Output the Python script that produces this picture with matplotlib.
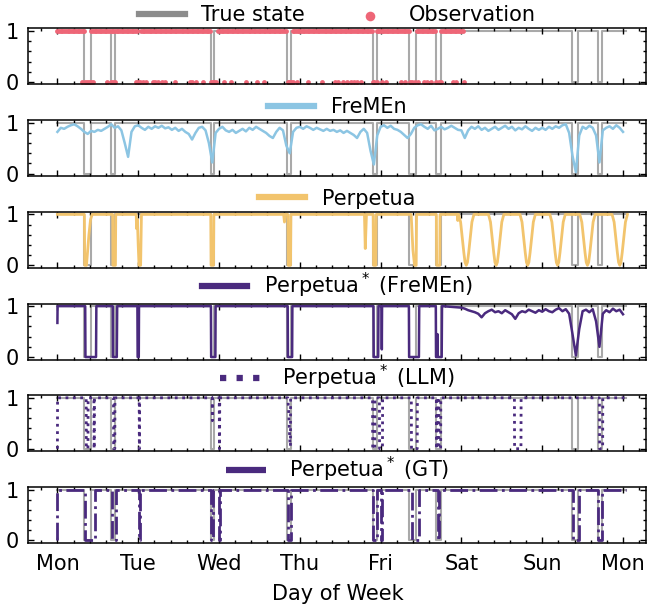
import numpy as np
import matplotlib
matplotlib.use("Agg")
import matplotlib.pyplot as plt
from matplotlib.ticker import AutoMinorLocator

day_ticks = [0, 1, 2, 3, 4, 5, 6, 7]
day_labels = ["Mon", "Tue", "Wed", "Thu", "Fri", "Sat", "Sun", "Mon"]
t_end = 7.04

# periods where the true state is 0 (days since Monday 00:00)
true_dips = [(0.334, 0.42), (0.666, 0.715), (1.899, 1.936), (2.847, 2.892),
             (3.903, 3.953), (4.357, 4.44), (4.687, 4.749), (6.366, 6.448),
             (6.696, 6.737)]

# observations, Mon-Fri only: runs of 1s (sampled every 30 min) and the 0s
obs_one_ranges = [(0.0, 0.335), (0.42, 0.985), (1.036, 1.895), (1.99, 2.84),
                  (2.91, 3.9), (3.95, 4.355), (4.445, 4.685), (4.75, 5.03)]
obs_step = 1 / 48
obs_zero_t = [0.302, 0.345, 0.37, 0.39, 0.41, 0.44, 0.611, 0.667, 0.69, 0.712,
              0.976, 1.0, 1.02, 1.06, 1.10, 1.18, 1.21, 1.25, 1.29, 1.33, 1.457,
              1.64, 1.67, 1.72, 1.807, 1.90, 1.92, 1.94, 1.96, 2.063, 2.15, 2.33,
              2.47, 2.56, 2.85, 2.87, 2.89, 2.92, 2.96, 3.1, 3.28, 3.43, 3.47,
              3.53, 3.59, 3.63, 3.67, 3.71, 3.76, 3.90, 3.92, 3.95, 4.02, 4.07,
              4.25, 4.30, 4.36, 4.39, 4.42, 4.46, 4.54, 4.58, 4.62, 4.69, 4.72,
              4.75, 4.89, 4.93, 5.03]

# FreMEn prediction, one value per hour
fremen_vals = [
    0.82, 0.9, 0.88, 0.92, 0.95, 0.97, 0.93, 0.88, 0.82, 0.78, 0.84, 0.82,
    0.86, 0.84, 0.88, 0.92, 0.97, 0.9, 0.93, 0.85, 0.6, 0.33, 0.82, 0.93,
    0.95, 0.9, 0.86, 0.92, 0.88, 0.93, 0.9, 0.94, 0.89, 0.91, 0.86, 0.9,
    0.84, 0.88, 0.82, 0.78, 0.67, 0.8, 0.9, 0.92, 0.85, 0.6, 0.22, 0.8,
    0.88, 0.92, 0.85, 0.82, 0.86, 0.8, 0.84, 0.88, 0.83, 0.9, 0.86, 0.92,
    0.88, 0.84, 0.8, 0.74, 0.7, 0.82, 0.9, 0.85, 0.55, 0.4, 0.82, 0.9,
    0.92, 0.88, 0.93, 0.9, 0.86, 0.9, 0.87, 0.84, 0.88, 0.84, 0.86, 0.82,
    0.85, 0.8, 0.84, 0.8, 0.76, 0.7, 0.82, 0.88, 0.8, 0.45, 0.18, 0.75,
    0.92, 0.95, 0.9, 0.94, 0.88, 0.86, 0.82, 0.76, 0.7, 0.78, 0.9, 0.95,
    0.97, 0.92, 0.88, 0.94, 0.85, 0.88, 0.92, 0.87, 0.9, 0.94, 0.9, 0.86,
    0.85, 0.7, 0.85, 0.92, 0.88, 0.93, 0.86, 0.9, 0.84, 0.88, 0.92, 0.86,
    0.9, 0.94, 0.88, 0.92, 0.85, 0.9, 0.87, 0.93, 0.88, 0.84, 0.9, 0.86,
    0.9, 0.86, 0.92, 0.88, 0.93, 0.9, 0.95, 0.97, 0.8, 0.35, 0.03, 0.75,
    0.92, 0.88, 0.94, 0.9, 0.75, 0.22, 0.85, 0.9, 0.93, 0.88, 0.95, 0.9,
    0.82]

# Perpetua: breakpoints up to Friday, then V-shaped dips over the weekend
perp_t = [0.0, 0.334, 0.338, 0.36, 0.39, 0.41, 0.43,
          0.684, 0.687, 0.718, 0.722,
          0.975, 0.98, 0.99, 1.0, 1.01, 1.03, 1.04,
          1.898, 1.902, 1.932, 1.936,
          2.80, 2.81, 2.82, 2.853, 2.857, 2.885, 2.89,
          3.80, 3.81, 3.825, 3.908, 3.913, 3.94, 3.945,
          4.378, 4.40, 4.42, 4.44, 4.445,
          4.69, 4.694, 4.732, 4.736,
          4.95, 4.955, 4.96]
perp_v = [1, 1, 0, 0, 0.6, 0.9, 1,
          1, 0, 0, 1,
          1, 0.72, 0.9, 0.4, 0, 0, 1,
          1, 0, 0, 1,
          1, 0.85, 1, 1, 0, 0, 1,
          1, 0.33, 1, 1, 0, 0, 1,
          1, 0.3, 0, 0, 1,
          1, 0, 0, 1,
          1, 0.88, 1]
perp_v_centres = [5.06, 5.43, 5.82, 6.19, 6.56, 6.96]
v_offsets = [-0.095, -0.07, -0.05, -0.03, -0.015, 0.0, 0.015, 0.03, 0.05, 0.07, 0.095]
v_shape = [1.0, 0.85, 0.55, 0.25, 0.06, 0.0, 0.06, 0.25, 0.55, 0.85, 1.0]

# Perpetua* (FreMEn): breakpoints up to Friday, hourly values for the weekend
pf_t = [0.0, 0.002, 0.344, 0.347, 0.478, 0.482,
        0.685, 0.688, 0.735, 0.74,
        0.99, 0.993, 1.007, 1.01,
        1.90, 1.903, 1.955, 1.958,
        2.85, 2.853, 2.905, 2.908,
        3.912, 3.915, 3.97, 3.974, 4.012, 4.015, 4.018,
        4.35, 4.353, 4.474, 4.478,
        4.683, 4.686, 4.70, 4.704, 4.708, 4.756, 4.76]
pf_v = [0.67, 1, 1, 0, 0, 1,
        1, 0, 0, 1,
        1, 0, 0, 1,
        1, 0, 0, 1,
        1, 0, 0, 1,
        1, 0, 0, 1, 1, 0.15, 1,
        1, 0, 0, 1,
        1, 0, 0, 0.45, 0, 0, 1]
pf_weekend = [0.97, 0.95, 0.92, 0.9, 0.88, 0.85, 0.78, 0.86, 0.9, 0.93, 0.88, 0.9,
              0.86, 0.92, 0.88, 0.84, 0.75, 0.86, 0.9, 0.88, 0.93, 0.9, 0.87, 0.92,
              0.89, 0.94, 0.9, 0.88, 0.93, 0.96, 0.9, 0.94, 0.85, 0.45, 0.03, 0.55,
              0.9, 0.93, 0.88, 0.94, 0.7, 0.2, 0.85, 0.92, 0.88, 0.95, 0.9, 0.93,
              0.84]

# Perpetua* (LLM)
llm_t = [0.0, 0.002,
         0.356, 0.358, 0.378, 0.38,
         0.452, 0.454, 0.456, 0.458,
         0.694, 0.696, 0.71, 0.712,
         1.012, 1.014, 1.016, 1.018,
         1.916, 1.918, 1.92,
         2.003, 2.005, 2.007, 2.009,
         2.852, 2.86, 2.87, 2.88, 2.884, 2.886,
         3.90, 3.902, 3.928, 3.93,
         3.985, 3.987, 4.023, 4.025,
         4.38, 4.382, 4.453, 4.455,
         4.69, 4.692, 4.698, 4.70,
         4.72, 4.722, 4.743, 4.745,
         5.656, 5.658, 5.737, 5.739,
         6.708, 6.71, 6.748, 6.75,
         7.04]
llm_v = [0, 1,
         1, 0, 0, 1,
         1, 0, 0, 1,
         1, 0, 0, 1,
         1, 0, 0, 1,
         1, 0.55, 1,
         1, 0, 0, 1,
         1, 0.8, 0.4, 0.05, 0.05, 1,
         1, 0, 0, 1,
         1, 0, 0, 1,
         1, 0, 0, 1,
         1, 0, 0, 1,
         1, 0, 0, 1,
         1, 0, 0, 1,
         1, 0, 0, 1,
         1]

# Perpetua* (GT): zero periods
gt_dips = [(0.344, 0.467), (0.675, 0.72), (1.012, 1.018), (1.90, 1.92),
           (2.003, 2.009), (2.85, 2.89), (3.91, 3.96), (4.005, 4.012),
           (4.39, 4.478), (4.708, 4.72), (6.378, 6.454), (6.69, 6.74)]

gray_c = "#8c8c8c"
obs_c = "#EE6677"
fremen_c = "#8CC5E3"
perp_c = "#F2C46D"
purple = "#4A2A7E"


def step_line(dips, start=1.0):
    t, v = [0.0], [start]
    if start != 1.0:
        t.append(0.0)
        v.append(1.0)
    for a, b in dips:
        t += [a, a, b, b]
        v += [1, 0, 0, 1]
    t.append(t_end)
    v.append(1.0)
    return t, v


true_t, true_v = step_line(true_dips)
gt_t, gt_v = step_line(gt_dips, start=0.0)

obs_one_t = np.concatenate([np.arange(a, b, obs_step) for a, b in obs_one_ranges])
fremen_t = np.arange(len(fremen_vals)) / 24

perp_full_t = list(perp_t)
perp_full_v = list(perp_v)
for c in perp_v_centres:
    for o, s in zip(v_offsets, v_shape):
        perp_full_t.append(c + o)
        perp_full_v.append(s)

pf_full_t = list(pf_t) + list(5.0 + np.arange(len(pf_weekend)) / 24)
pf_full_v = list(pf_v) + pf_weekend

fig, axes = plt.subplots(6, 1, figsize=(6.51, 6.06), dpi=100, sharex=True)
fig.subplots_adjust(left=0.0435, right=0.993, top=0.953, bottom=0.104, hspace=0.6375)

for ax in axes:
    ax.plot(true_t, true_v, color=gray_c, alpha=0.75, lw=1.5, label="True state", zorder=1)

ax = axes[0]
ax.scatter(obs_one_t, np.ones(len(obs_one_t)), s=12, color=obs_c, lw=0, label="Observation", zorder=2)
ax.scatter(obs_zero_t, np.zeros(len(obs_zero_t)), s=12, color=obs_c, lw=0, zorder=2)

axes[1].plot(fremen_t, fremen_vals, color=fremen_c, lw=1.8, label="FreMEn", zorder=2)
axes[2].plot(perp_full_t, perp_full_v, color=perp_c, lw=2.0, label="Perpetua", zorder=2)
axes[3].plot(pf_full_t, pf_full_v, color=purple, lw=1.8, label=r"Perpetua$^*$ (FreMEn)", zorder=2)
axes[4].plot(llm_t, llm_v, color=purple, lw=2.0, ls=":", label=r"Perpetua$^*$ (LLM)", zorder=2)
axes[5].plot(gt_t, gt_v, color=purple, lw=2.0, ls="-.", label=r"Perpetua$^*$ (GT)", zorder=2)

for i, ax in enumerate(axes):
    ax.set_xlim(-0.36, 7.29)
    ax.set_ylim(-0.05, 1.05)
    ax.set_yticks([0, 1])
    ax.set_xticks(day_ticks)
    ax.xaxis.set_minor_locator(AutoMinorLocator(5))
    ax.yaxis.set_minor_locator(AutoMinorLocator(5))
    ax.tick_params(which="both", direction="in", top=True, right=True, width=1, labelsize=15)
    ax.tick_params(which="major", length=4.5)
    ax.tick_params(which="minor", length=2.5)
    ax.tick_params(axis="y", pad=7)
    ax.tick_params(axis="x", pad=8)
    for sp in ax.spines.values():
        sp.set_linewidth(1.1)
    handles, labels = ax.get_legend_handles_labels()
    if i > 0:
        handles, labels = handles[1:], labels[1:]
    leg = ax.legend(handles, labels, loc="lower center", bbox_to_anchor=(0.5, 1.0),
                    ncol=2, frameon=False, fontsize=15, borderaxespad=0, borderpad=0.15,
                    handlelength=2.2, markerscale=2.0)
    for h in leg.legend_handles:
        if isinstance(h, matplotlib.lines.Line2D):
            h.set_linewidth(4.5)
            h.set_alpha(1.0)

axes[-1].set_xticklabels(day_labels)
axes[-1].set_xlabel("Day of Week", fontsize=15, labelpad=7)

fig.savefig("out.png", dpi=100)
